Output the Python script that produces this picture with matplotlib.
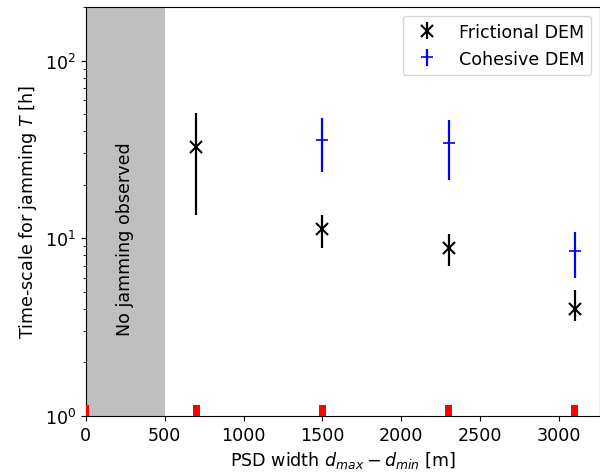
import matplotlib
matplotlib.use("Agg")
import matplotlib.pyplot as plt

fric_x = [700, 1500, 2300, 3100]
fric_y = [32.5, 11.2, 8.8, 4.0]
fric_lo = [13.6, 8.8, 7.0, 3.4]
fric_hi = [51.0, 13.5, 10.5, 5.1]

coh_x = [1500, 2300, 3100]
coh_y = [35.5, 34.2, 8.45]
coh_lo = [23.5, 21.2, 6.0]
coh_hi = [47.8, 46.6, 10.9]

psd_x = [0, 700, 1500, 2300, 3100]
psd_h = [0.15, 0.15, 0.15, 0.15, 0.15]

plt.rcParams['font.size'] = 12.6
fig = plt.figure(figsize=(6, 4.77), dpi=100)
ax = fig.add_axes([0.143, 0.126, 0.857, 0.857])

ax.axvspan(0, 500, color='#bfbfbf', zorder=0, lw=0)
ax.text(250, 10, 'No jamming observed', rotation=90, ha='center', va='center')

ferr = [[y - l for y, l in zip(fric_y, fric_lo)], [h - y for y, h in zip(fric_y, fric_hi)]]
cerr = [[y - l for y, l in zip(coh_y, coh_lo)], [h - y for y, h in zip(coh_y, coh_hi)]]
ax.errorbar(fric_x, fric_y, yerr=ferr, fmt='x', color='black', ms=8, mew=1.5, elinewidth=1.6, label='Frictional DEM')
ax.errorbar(coh_x, coh_y, yerr=cerr, fmt='+', color='blue', ms=8.5, mew=1.2, elinewidth=1.6, label='Cohesive DEM')

ax.bar(psd_x, psd_h, bottom=1, width=45, color='red', zorder=3)

ax.set_yscale('log')
ax.set_ylim(1, 200)
ax.set_xlim(0, 3260)
ax.set_xlabel('PSD width $d_{max} - d_{min}$ [m]')
ax.set_ylabel('Time-scale for jamming $T$ [h]')
ax.legend(loc='upper right')

fig.savefig('out.png', dpi=100)
